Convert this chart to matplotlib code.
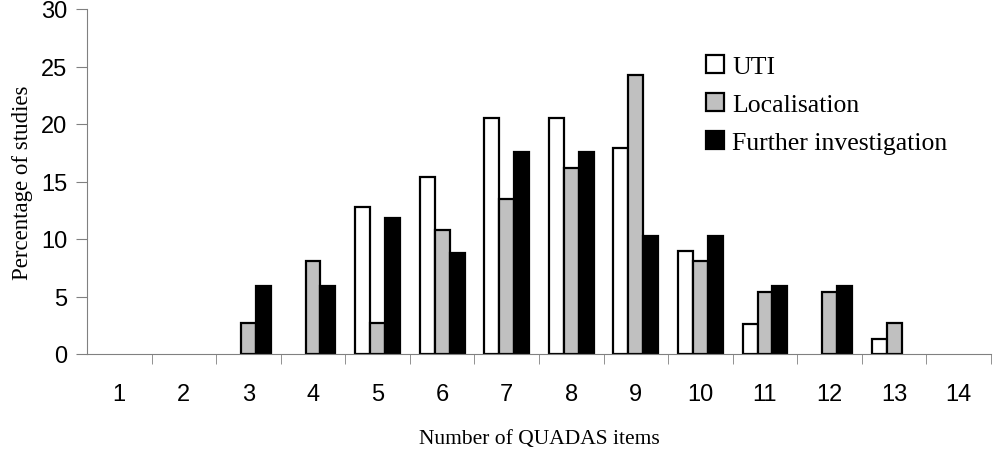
import matplotlib.pyplot as plt
import numpy as np

# data
items = list(range(1, 15))
uti = [0, 0, 0, 0, 12.8, 15.4, 20.5, 20.5, 17.9, 9.0, 2.6, 0, 1.3, 0]
localisation = [0, 0, 2.7, 8.1, 2.7, 10.8, 13.5, 16.2, 24.3, 8.1, 5.4, 5.4, 2.7, 0]
further = [0, 0, 5.9, 5.9, 11.8, 8.8, 17.6, 17.6, 10.3, 10.3, 5.9, 5.9, 0, 0]

fig = plt.figure(figsize=(10.04, 4.52), dpi=100)
ax = fig.add_axes([87 / 1004, 97 / 452, 904 / 1004, 345 / 452])

x = np.arange(len(items))
w = 0.232
kw = dict(edgecolor='black', linewidth=1.6)
ax.bar(x - w, [v if v > 0 else np.nan for v in uti], w, color='white', label='UTI', **kw)
ax.bar(x, [v if v > 0 else np.nan for v in localisation], w, color='#c0c0c0', label='Localisation', **kw)
ax.bar(x + w, [v if v > 0 else np.nan for v in further], w, color='black', label='Further investigation', **kw)

ax.set_xlim(-0.5, len(items) - 0.5)
ax.set_ylim(0, 30)
ax.set_yticks(range(0, 31, 5))
ax.set_xticks(x)
ax.set_xticklabels([str(i) for i in items], fontfamily='Liberation Sans', fontsize=17)
ax.set_xticks(np.arange(0.5, len(items) - 0.4, 1), minor=True)
ax.tick_params(axis='x', which='major', length=0, pad=21)
ax.tick_params(axis='x', which='minor', length=7, color='#808080', direction='out')
ax.tick_params(axis='y', length=8, color='#808080', labelsize=17, pad=6)
for lab in ax.get_yticklabels():
    lab.set_fontfamily('Liberation Sans')

for s in ['top', 'right']:
    ax.spines[s].set_visible(False)
ax.spines['left'].set_color('#808080')
ax.spines['bottom'].set_color('#808080')

ax.set_xlabel('Number of QUADAS items', fontfamily='Liberation Serif', fontsize=15.5, labelpad=17)
ax.set_ylabel('Percentage of studies', fontfamily='Liberation Serif', fontsize=16.5, labelpad=6)

ax.legend(loc='upper left', bbox_to_anchor=(0.685, 0.868), frameon=False,
          borderpad=0, borderaxespad=0,
          prop={'family': 'Liberation Serif', 'size': 18.5},
          handlelength=0.7, handleheight=0.7, handletextpad=0.3, labelspacing=0.6)

plt.savefig('out.png', dpi=100)
